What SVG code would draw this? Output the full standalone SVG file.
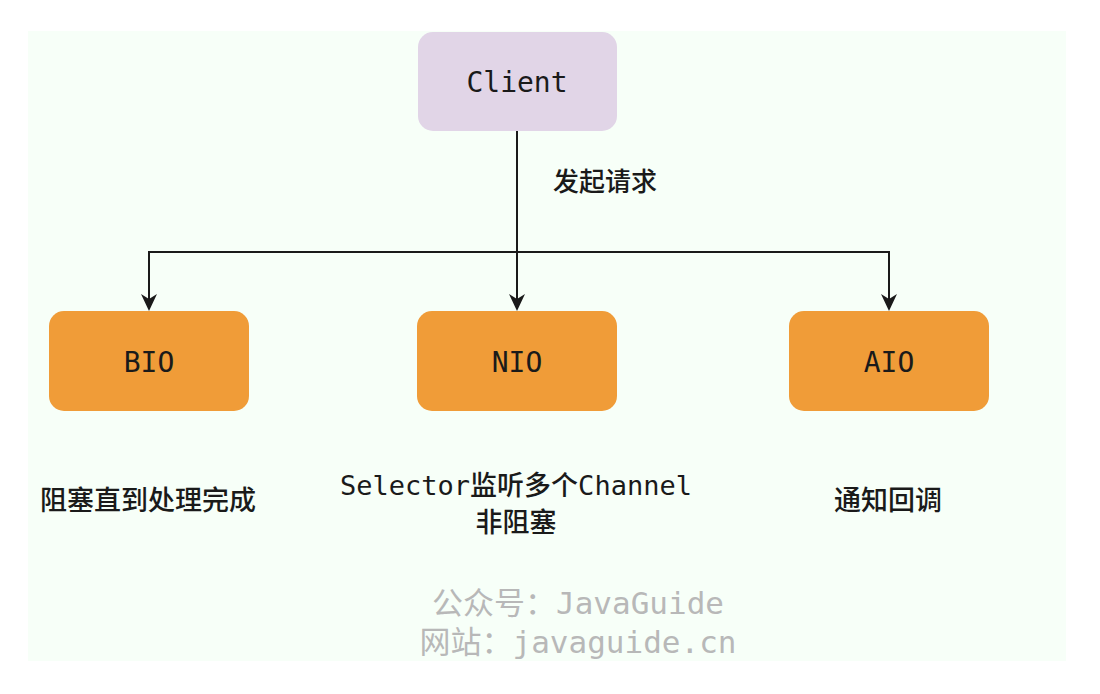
<svg xmlns="http://www.w3.org/2000/svg" width="1100" height="694" viewBox="0 0 1100 694">
<style>
.mono{font-family:"DejaVu Sans Mono","Noto Sans CJK SC",monospace;fill:#1a1a1a}
.cjk{font-family:"DejaVu Sans Mono","Noto Sans CJK SC",sans-serif;fill:#1a1a1a;font-weight:500}
.wm{font-family:"DejaVu Sans Mono","Noto Sans CJK SC",monospace;fill:#b8b8b8;font-size:31px}
.node{fill:#f09c38}
.edge{fill:none;stroke:#1a1a1a;stroke-width:2}
.head{fill:#1a1a1a}
</style>
<rect x="0" y="0" width="1100" height="694" fill="#ffffff"/>
<rect x="28" y="31" width="1038" height="630" fill="#f7fff8"/>
<g id="connectors">
<path class="edge" d="M517,131 L517,300"/>
<path class="edge" d="M149,300 L149,252 L889,252 L889,300"/>
<path class="head" d="M509,294 L517,299 L525,294 L517,311 Z"/>
<path class="head" d="M141,294 L149,299 L157,294 L149,311 Z"/>
<path class="head" d="M881,294 L889,299 L897,294 L889,311 Z"/>
<text class="cjk" x="553" y="191" font-size="26">发起请求</text>
</g>
<g id="client">
<rect x="418" y="32" width="199" height="99" rx="15" fill="#e1d5e7"/>
<text class="mono" x="517" y="92" font-size="28" text-anchor="middle">Client</text>
</g>
<g id="bio">
<rect class="node" x="49" y="311" width="200" height="100" rx="15"/>
<text class="mono" x="149" y="372" font-size="28" text-anchor="middle">BIO</text>
</g>
<g id="nio">
<rect class="node" x="417" y="311" width="200" height="100" rx="15"/>
<text class="mono" x="517" y="372" font-size="28" text-anchor="middle">NIO</text>
</g>
<g id="aio">
<rect class="node" x="789" y="311" width="200" height="100" rx="15"/>
<text class="mono" x="889" y="372" font-size="28" text-anchor="middle">AIO</text>
</g>
<g id="labels">
<text class="cjk" x="148" y="510" font-size="27" text-anchor="middle">阻塞直到处理完成</text>
<text class="cjk" x="516" y="495" font-size="27" text-anchor="middle">Selector监听多个Channel</text>
<text class="cjk" x="516" y="532" font-size="27" text-anchor="middle">非阻塞</text>
<text class="cjk" x="888" y="510" font-size="27" text-anchor="middle">通知回调</text>
</g>
<g id="watermark">
<text class="wm" x="578" y="614" text-anchor="middle">公众号：JavaGuide</text>
<text class="wm" x="578" y="653" text-anchor="middle">网站：javaguide.cn</text>
</g>
</svg>
